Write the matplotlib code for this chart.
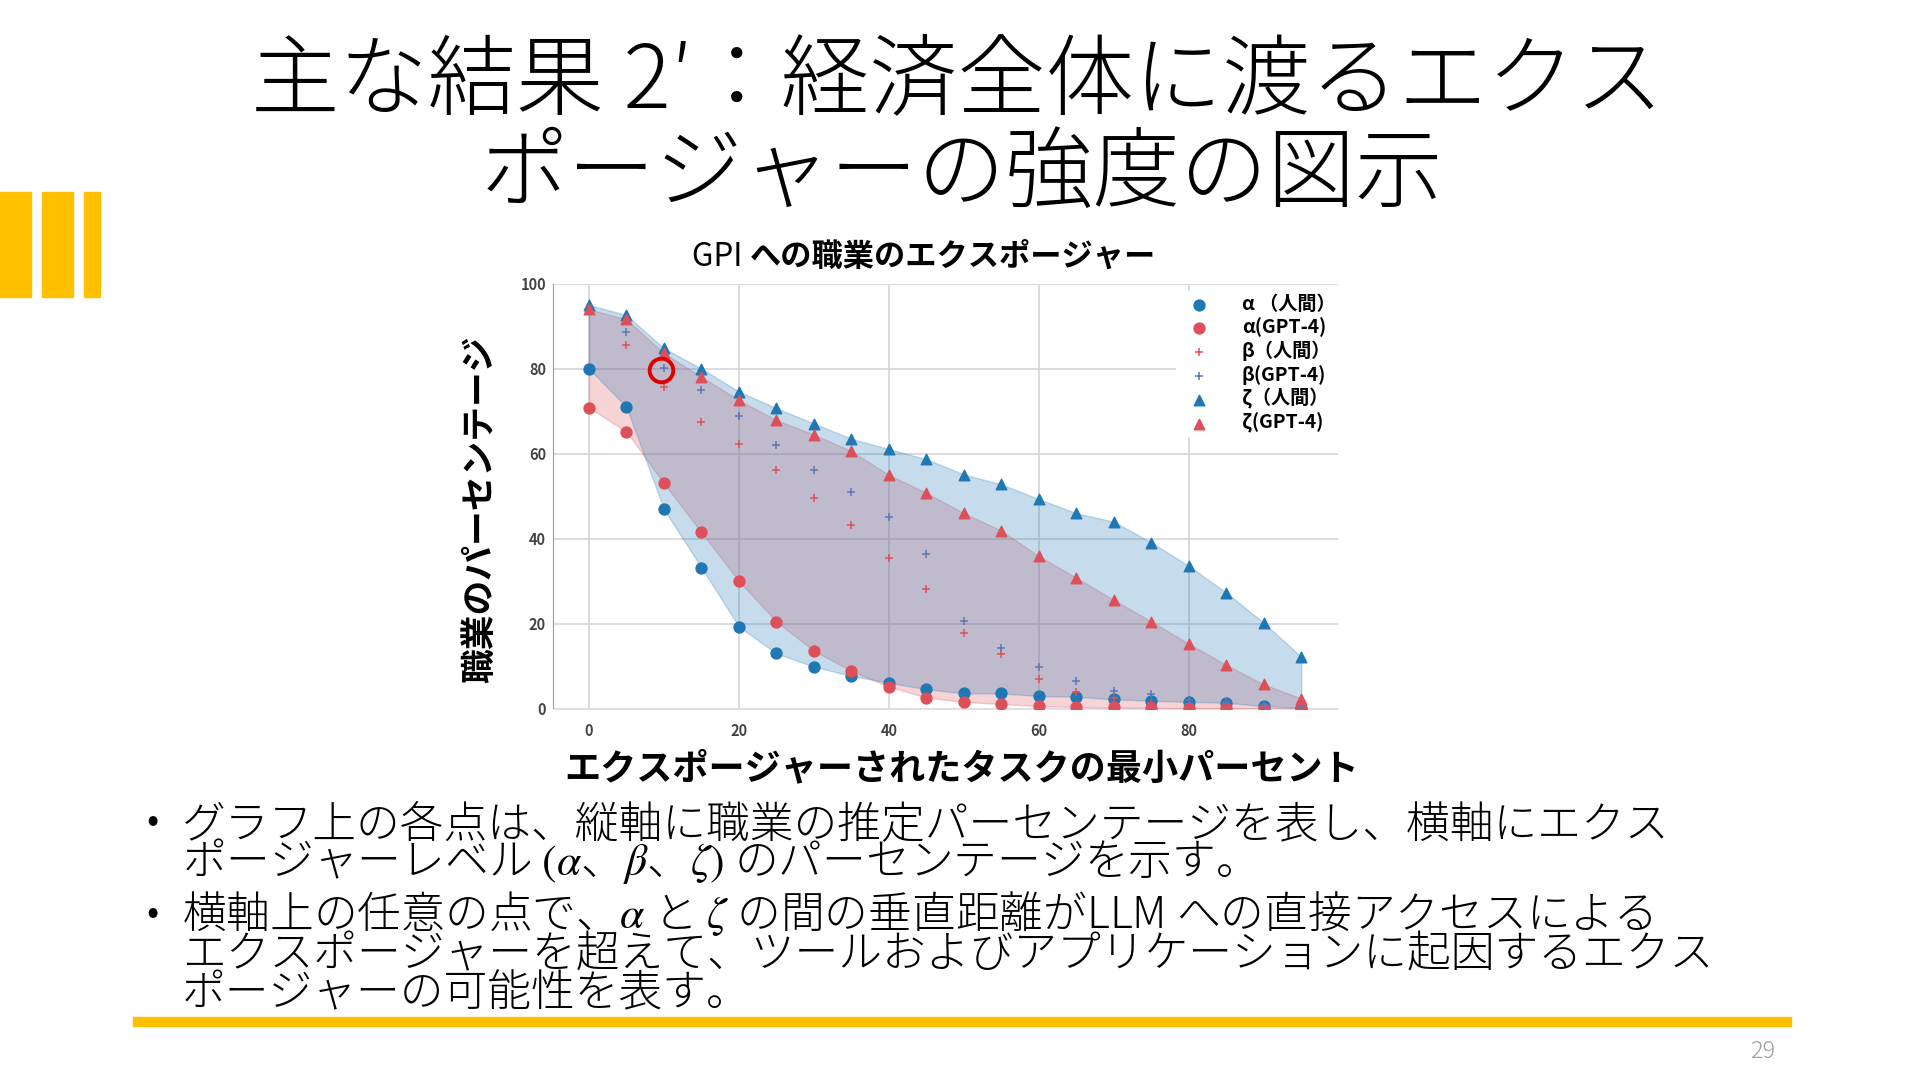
import numpy as np
import matplotlib
matplotlib.use("Agg")
import matplotlib.pyplot as plt
from matplotlib.patches import Rectangle

plt.rcParams['font.family'] = ['Noto Sans CJK JP', 'DejaVu Sans']
plt.rcParams['mathtext.fontset'] = 'stix'

# minimum % of exposed tasks (x axis)
x_vals = [0, 5, 10, 15, 20, 25, 30, 35, 40, 45, 50, 55, 60, 65, 70, 75, 80, 85, 90, 95]

# % of occupations
alpha_human = [80, 71, 46.9, 33.2, 19.3, 13, 9.9, 7.7, 6.1, 4.6, 3.6, 3.6, 3.0, 2.8, 2.2, 1.9, 1.6, 1.4, 0.6, 0.2]
alpha_gpt = [70.8, 65.2, 53, 41.5, 30, 20.5, 13.6, 8.9, 5.2, 2.6, 1.6, 1.1, 0.6, 0.4, 0.3, 0.2, 0.1, 0.1, 0.0, 0.0]
beta_human = [np.nan, 85.6, 75.6, 67.5, 62.3, 56.1, 49.6, 43.2, 35.4, 28.1, 17.7, 12.9, 7.1, 4.0, 2.6, 1.4, 1.2, 1.0, 0.5, 0.2]
beta_gpt = [np.nan, 88.6, 80.2, 75, 68.9, 62.1, 56.1, 51.1, 45, 36.3, 20.7, 14.2, 9.9, 6.6, 4.2, 3.5, 2.0, 1.5, 0.8, 0.3]
zeta_human = [95, 92.6, 84.8, 80, 74.6, 70.7, 67.1, 63.5, 61.1, 58.7, 55.1, 52.8, 49.3, 46, 44, 39.1, 33.6, 27.3, 20.2, 12.2]
zeta_gpt = [94, 91.6, 83.6, 78.1, 72.6, 67.9, 64.5, 60.6, 55, 50.8, 46, 41.9, 35.9, 30.8, 25.6, 20.5, 15.3, 10.3, 5.7, 2.4]

labels = ['α （人間）', 'α(GPT-4)', 'β（人間）', 'β(GPT-4)', 'ζ（人間）', 'ζ(GPT-4)']
yticks = [0, 20, 40, 60, 80, 100]
xticks = [0, 20, 40, 60, 80]

title_lines = ['主な結果 2′：経済全体に渡るエクス', 'ポージャーの強度の図示']
chart_title = ['GPI ', 'への職業のエクスポージャー']
xlabel = 'エクスポージャーされたタスクの最小パーセント'
ylabel = '職業のパーセンテージ'
bullets = [
    ['グラフ上の各点は、縦軸に職業の推定パーセンテージを表し、横軸にエクス',
     r'ポージャーレベル $(\alpha$、$\beta$、$\zeta)$ のパーセンテージを示す。'],
    [r'横軸上の任意の点で、$\alpha$ と $\zeta$ の間の垂直距離がLLM への直接アクセスによる',
     'エクスポージャーを超えて、ツールおよびアプリケーションに起因するエクス',
     'ポージャーの可能性を表す。'],
]
page_no = '29'

BLUE = '#1f77b4'
RED = '#dd505a'
PLUS_BLUE = '#5b78b6'
YELLOW = '#ffc000'

W, H = 1920, 1080
fig = plt.figure(figsize=(19.2, 10.8), dpi=100)

def fx(px):
    return px / W

def fy(py):
    return 1 - py / H

# slide decorations
for x0, x1 in [(0, 31), (42, 73), (84, 100)]:
    fig.patches.append(Rectangle((fx(x0), fy(297)), fx(x1 - x0), (297 - 192) / H,
                                 transform=fig.transFigure, color=YELLOW))
fig.patches.append(Rectangle((fx(133), fy(1026)), fx(1791 - 133), 9 / H,
                             transform=fig.transFigure, color=YELLOW))

fig.text(fx(957), fy(82), title_lines[0], ha='center', va='center', fontsize=63.5, weight='light')
fig.text(fx(962), fy(175), title_lines[1], ha='center', va='center', fontsize=63, weight='light')

# chart
ax = fig.add_axes([fx(553), 1 - 708.7 / H, 785 / W, 425 / H])
ax.fill_between(x_vals, alpha_gpt, zeta_gpt, color=RED, alpha=0.25, lw=1, zorder=1)
ax.fill_between(x_vals, alpha_human, zeta_human, color=BLUE, alpha=0.25, lw=1, zorder=2)

ax.scatter(x_vals, alpha_human, s=62, color=BLUE, marker='o', label=labels[0], zorder=4)
ax.scatter(x_vals, alpha_gpt, s=62, color=RED, marker='o', label=labels[1], zorder=4)
ax.scatter(x_vals, beta_human, s=34, color=RED, marker='+', lw=1.1, label=labels[2], zorder=4)
ax.scatter(x_vals, beta_gpt, s=34, color=PLUS_BLUE, marker='+', lw=1.1, label=labels[3], zorder=4)
ax.scatter(x_vals, zeta_human, s=58, color=BLUE, marker='^', label=labels[4], zorder=5)
ax.scatter(x_vals, zeta_gpt, s=58, color=RED, marker='^', label=labels[5], zorder=5)

# red ring around the β(GPT-4) point at 10%
ax.plot(x_vals[2] - 0.35, beta_gpt[2] - 0.4, marker='o', ms=17, mfc='none', mec='#e00000',
        mew=2.8, zorder=6)

ax.set_xlim(-4.8, 99.9)
ax.set_ylim(0, 100)
ax.set_xticks(xticks)
ax.set_yticks(yticks)
ax.grid(True, color='#d4d4dc', lw=1.2)
ax.set_axisbelow(True)
for s in ['top', 'right']:
    ax.spines[s].set_visible(False)
ax.spines['left'].set_color('#999999')
ax.spines['bottom'].set_color('#e2e2e2')
ax.tick_params(axis='both', length=0, labelsize=10.5, labelcolor='#444444')
ax.tick_params(axis='x', pad=10)
ax.tick_params(axis='y', pad=5)
for lbl in ax.get_xticklabels() + ax.get_yticklabels():
    lbl.set_fontweight('bold')

leg = ax.legend(loc='upper left', bbox_to_anchor=(0.793, 0.982), frameon=True, framealpha=1,
                edgecolor='none', facecolor='white', prop={'weight': 'bold', 'size': 13.8},
                labelspacing=0.18, handletextpad=1.25, borderpad=0.2, borderaxespad=0,
                scatterpoints=1)
leg.set_zorder(10)

# chart title: "GPI" regular, the rest bold
renderer = fig.canvas.get_renderer()
t1 = fig.text(fx(692), fy(257), chart_title[0], ha='left', va='center', fontsize=22.5)
bb = t1.get_window_extent(renderer)
fig.text(bb.x1 / W, fy(257), chart_title[1], ha='left', va='center', fontsize=22.5,
         weight='bold')

fig.text(fx(962), fy(769), xlabel, ha='center', va='center', fontsize=26, weight='bold')
fig.text(fx(480), fy(509), ylabel, ha='center', va='center', fontsize=25, weight='bold',
         rotation=90)

# bullet text, one block per bullet
para_top = [802, 889]
para_spacing = [0.73, 0.83]
bullet_y = [822, 914]
for lines, top, ls, by in zip(bullets, para_top, para_spacing, bullet_y):
    fig.text(fx(153), fy(by), '•', ha='center', va='center', fontsize=26)
    fig.text(fx(182), fy(top), '\n'.join(lines), ha='left', va='top', fontsize=31.5,
             weight='light', linespacing=ls)

fig.text(fx(1763), fy(1051), page_no, ha='center', va='center', fontsize=17, color='#a0a0a0',
         weight='light')

fig.savefig('out.png', dpi=100)
